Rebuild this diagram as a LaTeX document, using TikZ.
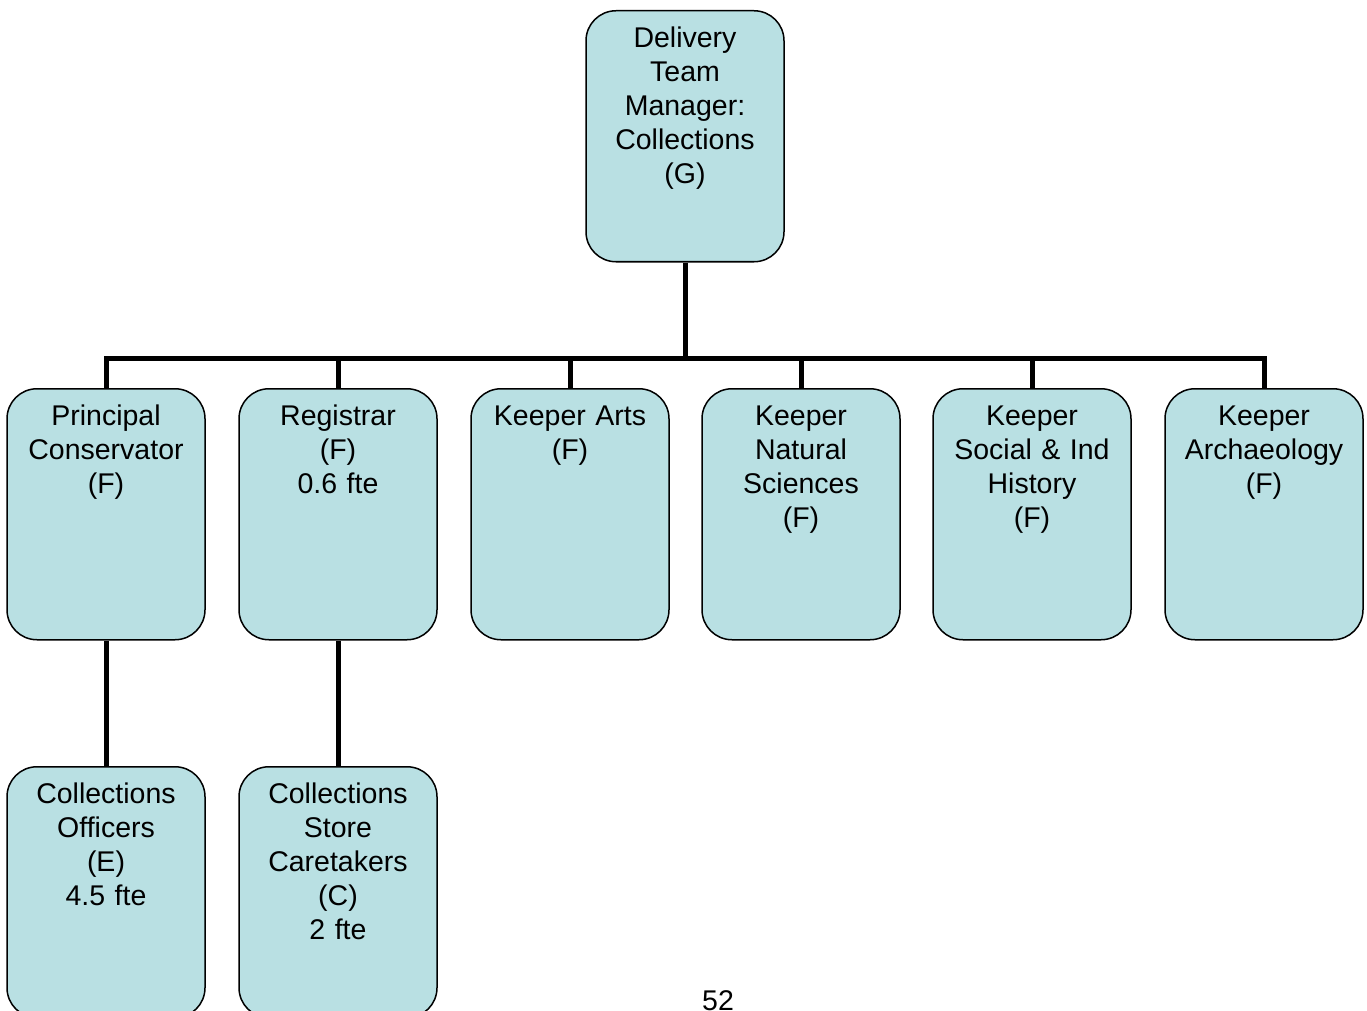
\documentclass[tikz,border=0pt]{standalone}
\usepackage{fontspec}
\setmainfont{Liberation Sans}
\usepackage{tikz}
\usetikzlibrary{
  positioning,
  calc
}
\definecolor{postblue}{HTML}{B9E0E3}
\tikzstyle{post}=[draw, fill=postblue, rounded corners=15pt, line width=0.75pt,
  minimum width=99pt, text width=92pt, align=center, inner sep=0pt,
  text height=18.5pt, text depth=107pt, anchor=north,
  font=\fontsize{14.25}{17}\selectfont]
\tikzstyle{link}=[line width=2.5pt]

\begin{document}
\begin{tikzpicture}[x=0.5pt, y=-0.5pt]
    % 描画範囲
    \useasboundingbox (0,0) rectangle (1367,1011);
    \clip (0,0) rectangle (1367,1011);

    % 管理者
    \node[post] (mgr) at (685,10) {Delivery\\Team\\Manager:\\Collections\\(G)};

    % 第二階層
    \node[post] (cons) at (106,388) {Principal\\Conservator\\(F)};
    \node[post] (reg)  at (338,388) {Registrar\\(F)\\0.6 fte};
    \node[post] (arts) at (570,388) {Keeper Arts\\(F)};
    \node[post] (nat)  at (801,388) {Keeper\\Natural\\Sciences\\(F)};
    \node[post] (soc)  at (1032,388) {Keeper\\Social \& Ind\\History\\(F)};
    \node[post] (arch) at (1264,388) {Keeper\\Archaeology\\(F)};

    % 第三階層
    \node[post] (off)  at (106,766) {Collections\\Officers\\(E)\\4.5 fte};
    \node[post] (care) at (338,766) {Collections\\Store\\Caretakers\\(C)\\2 fte};

    % 接続線
    \coordinate (bus) at (685,358);
    \draw[link] (mgr.south) -- (bus);
    \foreach \n in {cons,reg,arts,nat,soc,arch}
      \draw[link] (bus) -| (\n.north);
    \draw[link] (cons.south) -- (off.north);
    \draw[link] (reg.south) -- (care.north);

    % ページ番号
    \node[anchor=base, font=\fontsize{14.25}{17}\selectfont] (page) at (718,1010) {52};
  \end{tikzpicture}
\end{document}
